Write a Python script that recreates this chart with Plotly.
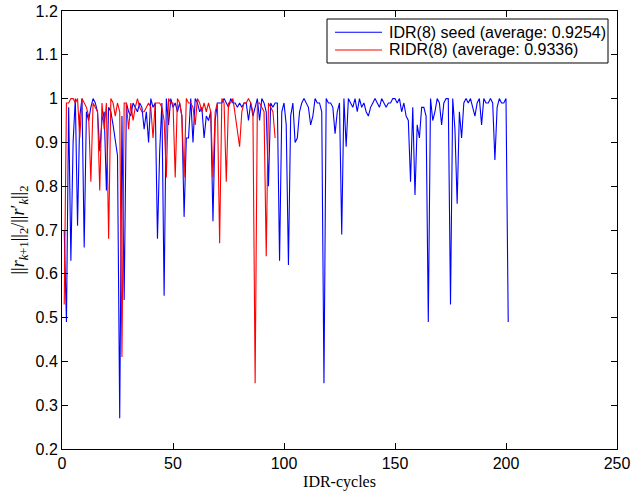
import plotly.graph_objects as go

# IDR(8) seed: ratio per IDR-cycle
idr_seed = [
    0.70, 0.49, 0.98, 0.63, 0.90, 1.00, 0.71, 0.96, 1.00, 0.66,
    0.97, 0.95, 0.98, 1.00, 0.99, 0.97, 0.88, 0.95, 0.97, 0.79,
    0.98, 0.97, 0.94, 0.91, 0.87, 0.27, 0.96, 0.54, 0.99, 0.97,
    0.96, 0.99, 0.98, 0.97, 0.99, 0.98, 0.93, 0.97, 0.90, 1.00,
    0.98, 0.99, 0.68, 0.88, 0.99, 0.55, 1.00, 0.94, 1.00, 0.98,
    0.99, 0.97, 0.99, 0.96, 0.73, 0.91, 0.91, 1.00, 0.90, 1.00,
    0.99, 0.97, 0.98, 0.91, 0.96, 0.95, 0.97, 0.72, 0.95, 0.99,
    0.99, 0.99, 1.00, 0.99, 0.98, 1.00, 0.99, 0.99, 0.98, 0.99,
    0.98, 0.99, 0.99, 0.95, 0.99, 0.96, 0.98, 1.00, 0.95, 1.00,
    0.99, 0.97, 0.80, 0.99, 0.98, 0.99, 0.99, 0.63, 0.97, 0.99,
    0.94, 0.62, 0.96, 0.99, 0.90, 0.91, 0.97, 0.99, 1.00, 0.99,
    0.98, 0.94, 0.96, 1.00, 0.99, 0.99, 0.97, 0.35, 1.00, 0.99,
    0.99, 0.98, 0.92, 0.97, 0.99, 0.69, 1.00, 0.89, 1.00, 0.99,
    0.98, 1.00, 0.97, 1.00, 0.98, 0.99, 0.97, 0.96, 0.98, 0.99,
    1.00, 0.99, 0.98, 1.00, 0.99, 0.98, 0.99, 0.99, 1.00, 1.00,
    0.99, 1.00, 0.97, 0.99, 0.96, 0.95, 0.81, 0.98, 0.78, 0.94,
    0.91, 0.98, 0.98, 0.96, 0.49, 1.00, 0.95, 0.97, 1.00, 0.99,
    0.94, 0.99, 1.00, 1.00, 0.53, 1.00, 0.93, 0.76, 0.97, 0.91,
    0.99, 1.00, 0.99, 1.00, 0.98, 0.96, 0.99,
    1.00, 0.94, 1.00, 0.99, 0.99, 1.00, 0.99, 0.86, 0.98, 1.00,
    0.99, 0.99, 1.00, 0.49,
]

# RIDR(8): ratio per IDR-cycle
ridr = [
    0.53, 0.99, 0.99, 1.00, 1.00, 0.99, 1.00, 0.91, 1.00, 0.99,
    0.98, 0.96, 0.81, 0.99, 0.98, 0.97, 0.79, 0.99, 0.93, 0.99,
    0.68, 1.00, 0.99, 0.96, 0.99, 0.97, 0.41, 0.99, 0.99, 0.93,
    0.99, 0.95, 0.98, 1.00, 0.98,
    0.97, 0.97, 0.98, 0.99, 0.98, 0.91, 0.99, 0.99, 0.99, 0.98,
    0.95, 0.82, 1.00, 0.99, 0.99, 0.82, 1.00, 0.99, 0.96, 0.82,
    1.00, 0.99, 0.99, 0.98, 0.94, 1.00, 0.99, 0.97, 0.99, 0.97,
    0.99, 0.97, 0.82, 0.97, 0.99, 0.67, 1.00, 0.99, 0.81, 0.99,
    0.99, 1.00, 0.96, 0.93, 0.89, 0.97, 0.99, 0.99, 1.00, 0.99,
    0.97, 0.35, 0.99, 0.99, 0.98, 0.97, 0.64, 0.99, 0.98, 0.97, 0.91,
]

series_names = ["IDR(8) seed (average: 0.9254)", "RIDR(8) (average: 0.9336)"]
series_colors = ["#0000ff", "#ff0000"]
x_ticks = [0, 50, 100, 150, 200, 250]
y_ticks = [0.2, 0.3, 0.4, 0.5, 0.6, 0.7, 0.8, 0.9, 1.0, 1.1, 1.2]
y_tick_text = ["0.2", "0.3", "0.4", "0.5", "0.6", "0.7", "0.8", "0.9", "1", "1.1", "1.2"]

fig = go.Figure()
fig.add_trace(go.Scatter(
    x=list(range(1, len(idr_seed) + 1)), y=idr_seed, mode="lines",
    name=series_names[0], line=dict(color=series_colors[0], width=1.1)))
fig.add_trace(go.Scatter(
    x=list(range(1, len(ridr) + 1)), y=ridr, mode="lines",
    name=series_names[1], line=dict(color=series_colors[1], width=1.1)))

sans = "Liberation Sans, Arial, sans-serif"
serif = "Liberation Serif, Times New Roman, serif"
tick_font = dict(family=sans, size=16, color="black")
axis_common = dict(
    showline=True, linecolor="black", linewidth=1, mirror="ticks",
    ticks="inside", ticklen=6, tickcolor="black", tickwidth=1,
    showgrid=False, zeroline=False, tickfont=tick_font, automargin=False,
)

# Legend drawn as a boxed key (MATLAB style, compact rows)
shapes = [dict(type="rect", xref="paper", yref="paper",
               x0=0.4775, x1=0.9838, y0=0.8813, y1=0.9817,
               line=dict(color="black", width=1), fillcolor="white", layer="above")]
annotations = []
row_y = [0.9514, 0.911]
for name, color, yy in zip(series_names, series_colors, row_y):
    shapes.append(dict(type="line", xref="paper", yref="paper",
                       x0=0.4919, x1=0.5766, y0=yy, y1=yy,
                       line=dict(color=color, width=1.1), layer="above"))
    annotations.append(dict(xref="paper", yref="paper", x=0.5856, y=yy,
                            xanchor="left", yanchor="middle", showarrow=False,
                            text=name, font=dict(family=sans, size=16, color="black")))

fig.update_layout(
    width=631, height=491,
    margin=dict(l=62, r=14, t=11, b=42),
    paper_bgcolor="white", plot_bgcolor="white",
    showlegend=False,
    shapes=shapes,
    annotations=annotations,
    xaxis=dict(range=[0, 250], tickvals=x_ticks,
               title=dict(text="IDR-cycles", standoff=4,
                          font=dict(family=serif, size=16, color="black")),
               **axis_common),
    yaxis=dict(range=[0.2, 1.2], tickvals=y_ticks, ticktext=y_tick_text,
               title=dict(text="||<i>r</i><sub><i>k</i>+1</sub>||<sub>2</sub>/||<i>r</i>′<sub><i>k</i></sub>||<sub>2</sub>",
                          standoff=6,
                          font=dict(family=serif, size=18, color="black")),
               **axis_common),
)

fig.write_html("out.html")
